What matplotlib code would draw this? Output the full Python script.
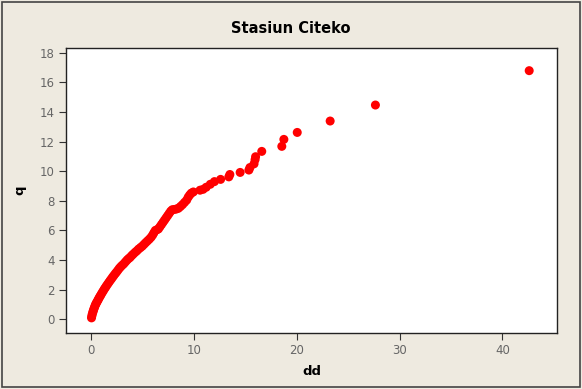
import matplotlib
matplotlib.use("Agg")
import matplotlib.pyplot as plt
from matplotlib.patches import Rectangle

# Citeko station: dd vs q
dd = [0.05, 0.08, 0.12, 0.18, 0.22, 0.28, 0.33, 0.40, 0.46, 0.52, 0.60, 0.68,
      0.75, 0.83, 0.92, 1.00, 1.10, 1.20, 1.30, 1.40, 1.50, 1.62, 1.74, 1.86,
      1.98, 2.10, 2.22, 2.35, 2.48, 2.62, 2.76, 2.90, 3.05, 3.20, 3.35, 3.50,
      3.65, 3.80, 3.95, 4.10, 4.28, 4.45, 4.62, 4.80, 4.98, 5.15, 5.32, 5.50,
      5.68, 5.85, 6.00, 6.12, 6.25, 6.40, 6.55, 6.70, 6.85, 7.00, 7.15, 7.30,
      7.45, 7.60, 7.75, 7.90, 8.10, 8.30, 8.50, 8.70, 8.90, 9.10, 9.30, 9.45,
      9.60, 9.75, 9.95, 10.6, 10.9, 11.2, 11.6, 12.0, 12.6, 13.4, 13.5, 14.5,
      15.35, 15.45, 15.85, 15.95, 16.0, 16.6, 18.55, 18.75, 20.05, 23.25,
      27.65, 42.6]
q = [0.10, 0.22, 0.35, 0.48, 0.58, 0.70, 0.80, 0.92, 1.02, 1.10, 1.20, 1.30,
     1.40, 1.50, 1.60, 1.70, 1.82, 1.93, 2.05, 2.15, 2.26, 2.38, 2.50, 2.62,
     2.73, 2.85, 2.96, 3.08, 3.19, 3.32, 3.45, 3.56, 3.66, 3.76, 3.88, 4.00,
     4.10, 4.18, 4.30, 4.40, 4.52, 4.62, 4.74, 4.84, 4.94, 5.06, 5.18, 5.30,
     5.42, 5.55, 5.70, 5.85, 6.00, 6.05, 6.10, 6.25, 6.40, 6.55, 6.70, 6.85,
     7.00, 7.15, 7.30, 7.40, 7.42, 7.45, 7.50, 7.62, 7.75, 7.90, 8.05, 8.25,
     8.40, 8.52, 8.60, 8.72, 8.78, 8.92, 9.12, 9.30, 9.45, 9.62, 9.78, 9.92,
     10.08, 10.25, 10.50, 10.78, 10.98, 11.34, 11.68, 12.15, 12.62, 13.39,
     14.47, 16.79]

x_ticks = [0, 10, 20, 30, 40]
y_ticks = [0, 2, 4, 6, 8, 10, 12, 14, 16, 18]

bg = "#EEEAE0"
tick_color = "#666666"

fig = plt.figure(figsize=(5.82, 3.89), dpi=100, facecolor=bg)
fig.patches.append(Rectangle((0.003, 0.004), 0.994, 0.992, transform=fig.transFigure,
                             fill=False, edgecolor="#444444", linewidth=1.2))

ax = fig.add_axes([0.1134, 0.144, 0.8436, 0.7326])
ax.set_facecolor("white")
ax.scatter(dd, q, s=42, color="#FF0000", edgecolors="none", zorder=3)

ax.set_xlim(-2.43, 45.3)
ax.set_ylim(-0.92, 18.32)
ax.set_xticks(x_ticks)
ax.set_yticks(y_ticks)
ax.tick_params(direction="out", length=5, width=0.8, colors="#333333",
               labelcolor=tick_color, labelsize=8.5, pad=3)
for sp in ax.spines.values():
    sp.set_color("#222222")
    sp.set_linewidth(1.0)

ax.set_xlabel("dd", fontsize=9.5, fontweight="bold", labelpad=6)
ax.set_ylabel("q", fontsize=9.5, fontweight="bold", labelpad=10)
fig.text(0.5, 0.928, "Stasiun Citeko", ha="center", va="center",
         fontsize=10.5, fontweight="bold")

fig.savefig("out.png", dpi=100, facecolor=bg)
